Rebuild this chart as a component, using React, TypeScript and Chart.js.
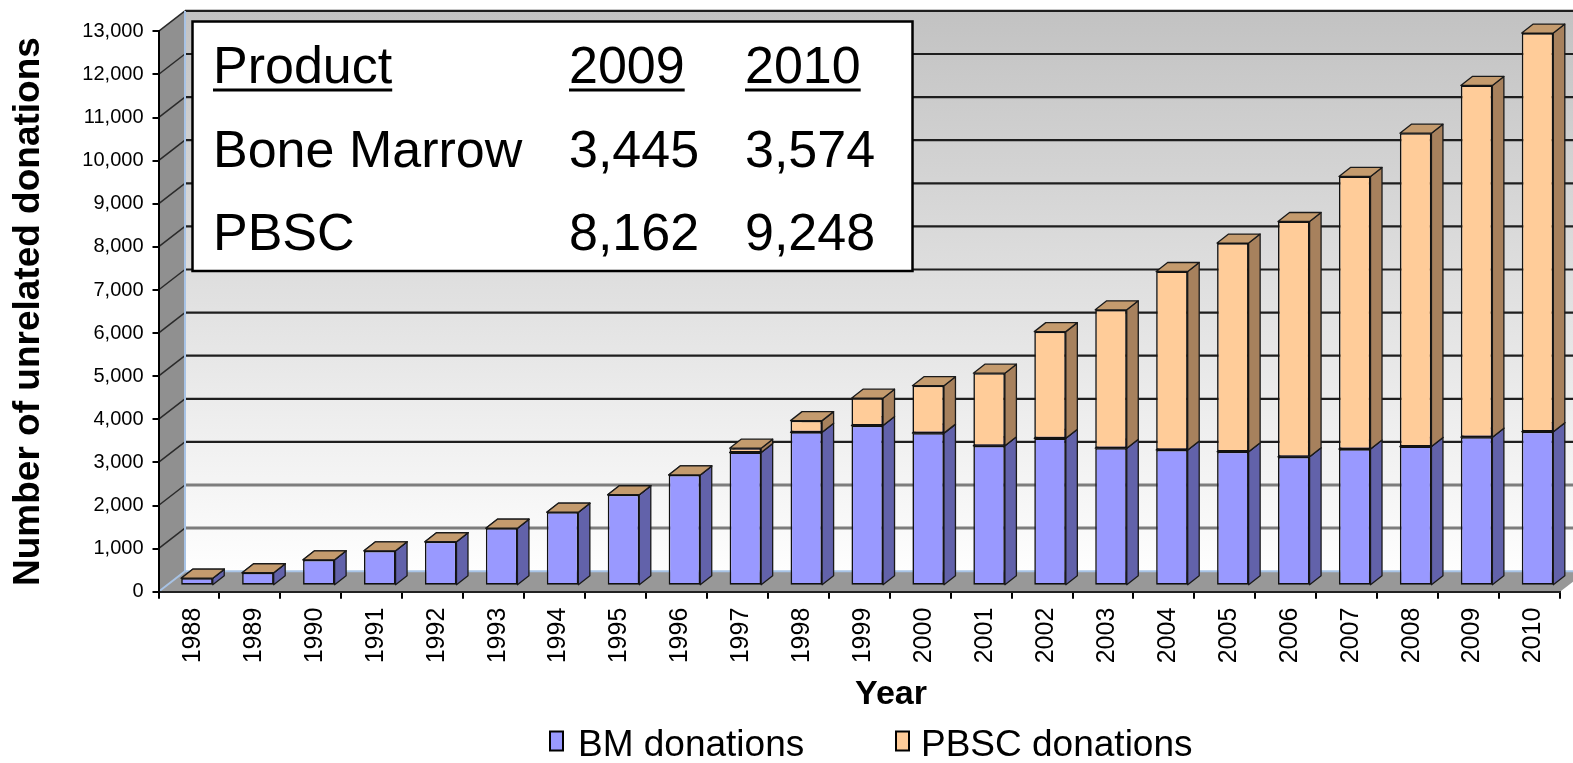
import React, { useEffect, useRef } from "react";
import { Chart, registerables } from "chart.js";

Chart.register(...registerables);

// ---------- data ----------
const years = ["1988", "1989", "1990", "1991", "1992", "1993", "1994", "1995", "1996", "1997", "1998", "1999", "2000", "2001", "2002", "2003", "2004", "2005", "2006", "2007", "2008", "2009", "2010"];
const bmDonations = [175, 300, 600, 810, 1020, 1335, 1705, 2110, 2570, 3090, 3560, 3715, 3540, 3245, 3420, 3190, 3150, 3110, 2990, 3170, 3230, 3445, 3574];
const pbscDonations = [0, 0, 0, 0, 0, 0, 0, 0, 0, 100, 270, 635, 1100, 1685, 2475, 3210, 4140, 4840, 5460, 6325, 7270, 8162, 9248];
const seriesLabels = ["BM donations", "PBSC donations"];
const yTickValues = [0, 1000, 2000, 3000, 4000, 5000, 6000, 7000, 8000, 9000, 10000, 11000, 12000, 13000];
const yAxisTitle = "Number of unrelated donations";
const xAxisTitle = "Year";
const tableHeader = ["Product", "2009", "2010"];
const tableRows = [
  ["Bone Marrow", "3,445", "3,574"],
  ["PBSC", "8,162", "9,248"],
];

// ---------- layout / style ----------
const FONT = "'Liberation Sans', Arial, Helvetica, sans-serif";
const W = 1573;
const H = 763;
const PLOT = { left: 158.5, right: 1560, top: 31.4, bottom: 591.7 };
const WALL_DX = 26.5;
const WALL_DY = -20.5;
const BAR_SHIFT_X = 8;
const BAR_SHIFT_Y = -6;
const BAR_DX = 11.5;
const BAR_DY = -9;
const FRONT = ["#9999FF", "#FFCC99"];
const SIDE = ["#6262AA", "#A7815D"];
const TOP = ["#7E7ED0", "#C49B6E"];

const TABLE = { x: 192.5, y: 21.5, w: 720, h: 249.5, cols: [213, 569, 745], baselines: [83, 167, 250], underlineY: 88.5 };
const LEGEND = { boxes: [550, 896], texts: [578, 921], boxY: 731.5, boxW: 13, boxH: 19, baseline: 756 };

const scenePlugin = {
  id: "scene3d",
  beforeDraw(chart: any) {
    const ctx = chart.ctx;
    const a = chart.chartArea;
    const ys = chart.scales.y;
    const bl = a.left + WALL_DX;
    const br = a.right + WALL_DX;
    const bt = ys.getPixelForValue(13000) + WALL_DY;
    const bb = ys.getPixelForValue(0) + WALL_DY;
    ctx.save();
    // back wall
    const g = ctx.createLinearGradient(0, bt, 0, bb);
    g.addColorStop(0, "#c2c2c2");
    g.addColorStop(1, "#fefefe");
    ctx.fillStyle = g;
    ctx.fillRect(bl, bt, br - bl, bb - bt);
    // side wall
    ctx.fillStyle = "#909090";
    ctx.beginPath();
    ctx.moveTo(a.left, a.top);
    ctx.lineTo(bl, bt);
    ctx.lineTo(bl, bb);
    ctx.lineTo(a.left, a.bottom);
    ctx.closePath();
    ctx.fill();
    // floor
    ctx.fillStyle = "#989898";
    ctx.beginPath();
    ctx.moveTo(a.left, a.bottom);
    ctx.lineTo(a.right, a.bottom);
    ctx.lineTo(br, bb);
    ctx.lineTo(bl, bb);
    ctx.closePath();
    ctx.fill();
    // gridlines on wall + side wall
    yTickValues.forEach((v) => {
      if (v === 0) return;
      const y = ys.getPixelForValue(v);
      const light = v <= 2000;
      ctx.strokeStyle = light ? "#7d7d7d" : "#1e1e1e";
      ctx.lineWidth = light ? 3 : 2.2;
      ctx.beginPath();
      ctx.moveTo(bl, y + WALL_DY);
      ctx.lineTo(br, y + WALL_DY);
      ctx.stroke();
      ctx.strokeStyle = "#2a2a2a";
      ctx.lineWidth = 1.5;
      ctx.beginPath();
      ctx.moveTo(a.left, y);
      ctx.lineTo(bl, y + WALL_DY);
      ctx.stroke();
    });
    // light edges
    ctx.strokeStyle = "#a8c3e5";
    ctx.lineWidth = 2;
    ctx.beginPath();
    ctx.moveTo(bl, bt);
    ctx.lineTo(bl, bb);
    ctx.lineTo(br, bb);
    ctx.moveTo(a.left, a.bottom);
    ctx.lineTo(bl, bb);
    ctx.stroke();
    ctx.restore();
  },
  beforeDatasetsDraw(chart: any) {
    const ctx = chart.ctx;
    ctx.save();
    ctx.translate(BAR_SHIFT_X, BAR_SHIFT_Y);
    const metas = chart.data.datasets.map((_: any, k: number) => chart.getDatasetMeta(k));
    const n = chart.data.labels.length;
    ctx.lineWidth = 1.3;
    ctx.strokeStyle = "#1a1a1a";
    ctx.lineJoin = "round";
    for (let i = 0; i < n; i++) {
      metas.forEach((m: any, k: number) => {
        const el = m.data[i];
        if (!el) return;
        const p = el.getProps(["x", "y", "base", "width"], true);
        const xl = p.x - p.width / 2;
        const xr = p.x + p.width / 2;
        const top = Math.min(p.y, p.base);
        const bot = Math.max(p.y, p.base);
        // side face
        ctx.fillStyle = SIDE[k];
        ctx.beginPath();
        ctx.moveTo(xr, top);
        ctx.lineTo(xr + BAR_DX, top + BAR_DY);
        ctx.lineTo(xr + BAR_DX, bot + BAR_DY);
        ctx.lineTo(xr, bot);
        ctx.closePath();
        ctx.fill();
        ctx.stroke();
        // top face
        ctx.fillStyle = TOP[k];
        ctx.beginPath();
        ctx.moveTo(xl, top);
        ctx.lineTo(xr, top);
        ctx.lineTo(xr + BAR_DX, top + BAR_DY);
        ctx.lineTo(xl + BAR_DX, top + BAR_DY);
        ctx.closePath();
        ctx.fill();
        ctx.stroke();
      });
    }
  },
  afterDatasetsDraw(chart: any) {
    chart.ctx.restore();
  },
  afterDraw(chart: any) {
    const ctx = chart.ctx;
    ctx.save();
    // table box
    ctx.fillStyle = "#ffffff";
    ctx.fillRect(TABLE.x, TABLE.y, TABLE.w, TABLE.h);
    ctx.strokeStyle = "#000";
    ctx.lineWidth = 2.5;
    ctx.strokeRect(TABLE.x, TABLE.y, TABLE.w, TABLE.h);
    ctx.fillStyle = "#000";
    ctx.font = `52px ${FONT}`;
    ctx.textBaseline = "alphabetic";
    ctx.textAlign = "left";
    const rows = [tableHeader, ...tableRows];
    rows.forEach((row, r) => {
      row.forEach((txt, c) => {
        ctx.fillText(txt, TABLE.cols[c], TABLE.baselines[r]);
        if (r === 0) {
          const w = ctx.measureText(txt).width;
          ctx.fillRect(TABLE.cols[c], TABLE.underlineY, w, 3);
        }
      });
    });
    // x axis title
    ctx.font = `bold 34px ${FONT}`;
    ctx.textAlign = "center";
    ctx.fillText(xAxisTitle, 891, 704);
    // legend
    ctx.font = `37px ${FONT}`;
    ctx.textAlign = "left";
    chart.data.datasets.forEach((ds: any, k: number) => {
      ctx.fillStyle = ds.backgroundColor;
      ctx.fillRect(LEGEND.boxes[k], LEGEND.boxY, LEGEND.boxW, LEGEND.boxH);
      ctx.strokeStyle = "#000";
      ctx.lineWidth = 2;
      ctx.strokeRect(LEGEND.boxes[k], LEGEND.boxY, LEGEND.boxW, LEGEND.boxH);
      ctx.fillStyle = "#000";
      ctx.fillText(ds.label, LEGEND.texts[k], LEGEND.baseline);
    });
    ctx.restore();
  },
};

export default function App() {
  const ref = useRef<HTMLCanvasElement | null>(null);
  useEffect(() => {
    document.body.style.margin = "0";
    const canvas = ref.current;
    if (!canvas) return;
    const chart = new Chart(canvas, {
      type: "bar",
      data: {
        labels: years,
        datasets: [
          {
            label: seriesLabels[0],
            data: bmDonations,
            backgroundColor: FRONT[0],
            borderColor: "#111",
            borderWidth: 1.6,
            borderSkipped: false,
            barPercentage: 0.518,
            categoryPercentage: 1,
          },
          {
            label: seriesLabels[1],
            data: pbscDonations,
            backgroundColor: FRONT[1],
            borderColor: "#111",
            borderWidth: 1.6,
            borderSkipped: false,
            barPercentage: 0.518,
            categoryPercentage: 1,
          },
        ],
      },
      options: {
        responsive: false,
        animation: false,
        devicePixelRatio: 1,
        layout: { padding: { left: 0, top: PLOT.top, right: W - PLOT.right, bottom: 0 } },
        plugins: {
          legend: { display: false },
          tooltip: { enabled: false },
        },
        scales: {
          x: {
            stacked: true,
            offset: true,
            grid: { offset: true, drawOnChartArea: false, drawTicks: true, tickLength: 7, color: "#000", lineWidth: 2 },
            border: { display: true, color: "#222", width: 2 },
            ticks: {
              autoSkip: false,
              maxRotation: 90,
              minRotation: 90,
              padding: 9,
              labelOffset: 4,
              color: "#000",
              font: { family: FONT, size: 25 },
            },
            afterFit: (s: any) => {
              s.height = H - PLOT.bottom;
            },
          },
          y: {
            stacked: true,
            min: 0,
            max: 13000,
            afterBuildTicks: (s: any) => {
              s.ticks = yTickValues.map((v) => ({ value: v }));
            },
            grid: { drawOnChartArea: false, drawTicks: true, tickLength: 6, color: "#000", lineWidth: 2 },
            border: { display: true, color: "#000", width: 2 },
            ticks: {
              padding: 9,
              color: "#000",
              font: { family: FONT, size: 20 },
              callback: (v: any) => Number(v).toLocaleString("en-US"),
            },
            title: {
              display: true,
              text: yAxisTitle,
              color: "#000",
              font: { family: FONT, size: 37, weight: "bold" },
              padding: { top: 6.5, bottom: 0 },
            },
            afterFit: (s: any) => {
              s.width = PLOT.left;
            },
          },
        },
      },
      plugins: [scenePlugin],
    });
    return () => chart.destroy();
  }, []);
  return <canvas ref={ref} width={W} height={H} style={{ display: "block", width: W, height: H }} />;
}
